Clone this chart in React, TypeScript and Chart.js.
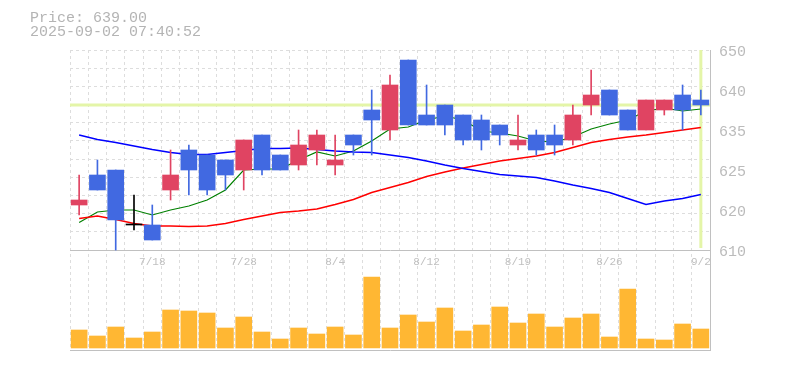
import React, { useEffect, useRef } from 'react';
import { Chart, registerables } from 'chart.js';

Chart.register(...registerables);

// ---- data ----
const DATES = ['7/14','7/15','7/16','7/17','7/18','7/22','7/23','7/24','7/25','7/28','7/29','7/30','7/31','8/1','8/4','8/5','8/6','8/7','8/8','8/12','8/13','8/14','8/15','8/18','8/19','8/20','8/21','8/22','8/25','8/26','8/27','8/28','8/29','9/1','9/2'];
const OPEN  = [619,625,626,615,615,622,630,629,628,626,633,629,627,630,627,633,638,634,648,637,639,637,636,635,631,633,633,632,639,642,638,634,638,641,640];
const HIGH  = [625,628,626,621,619,630,631,629,628,632,633,629,634,634,633,633,642,645,648,643,639,637,637,635,637,634,635,639,646,642,638,640,640,643,642];
const LOW   = [617,622,610,614,612,620,621,621,622,622,625,626,626,627,625,629,629,632,635,635,633,631,630,631,630,629,629,631,637,637,634,634,637,634,637];
const CLOSE = [620,622,616,615,612,625,626,622,625,632,626,626,631,633,628,631,636,643,635,635,635,632,632,633,632,630,631,637,641,637,634,640,640,638,639];
const MA_SHORT = [615.5,617.6,618.0,618.0,617.0,618.0,618.8,620.0,622.0,626.0,626.2,626.2,628.0,629.6,628.8,629.8,631.8,634.2,634.6,636.0,636.8,636.0,633.8,633.4,632.8,631.8,631.6,632.6,634.2,635.2,636.0,637.8,638.4,637.8,638.2];
const MA_MID = [616.3,616.8,616.1,615.3,614.8,614.8,614.7,614.8,615.3,616.1,616.8,617.5,617.8,618.2,619.1,620.1,621.5,622.5,623.5,624.7,625.6,626.4,627.1,627.8,628.3,628.8,629.5,630.5,631.5,632.1,632.6,633.0,633.5,634.0,634.5];
const MA_LONG = [633.0,632.1,631.5,630.8,630.1,629.5,629.1,629.1,629.5,629.9,630.3,630.3,630.4,630.1,629.8,629.6,629.5,629.0,628.5,627.8,627.0,626.3,625.7,625.1,624.8,624.5,623.8,623.0,622.3,621.5,620.3,619.1,619.8,620.3,621.1];
const VOLUME = [18,12,21,10,16,38,37,35,20,31,16,9,20,14,21,13,71,20,33,26,40,17,23,41,25,34,21,30,34,11,59,9,8,24,19];

const PRICE_TICKS = [610, 618, 626, 634, 642, 650];
const PRICE_TICK_LABELS = ['610', '620', '625', '635', '640', '650'];
const GRID_ROWS = [1, 2, 3, 4, 5, 6, 7, 8, 9, 10, 11];
const DATE_TICKS = ['7/18', '7/28', '8/4', '8/12', '8/19', '8/26', '9/2'];
const PRICE_MIN = 610;
const PRICE_MAX = 650;
const LAST_PRICE = 639;
const LAST_DATE = '9/2';
const HEADER = ['Price: 639.00', '2025-09-02 07:40:52'];

// ---- styles ----
const FONT = '"Liberation Mono", monospace';
const UP = '#e04462';
const DOWN = '#4169e1';
const FLAT = '#000000';
const HL = '#e4f5a8';
const GRID = '#dddddd';
const AXIS = '#c0c0c0';

export default function App() {
  const ref = useRef<HTMLCanvasElement>(null);

  useEffect(() => {
    Chart.defaults.font.family = FONT;
    const colors = OPEN.map((o, i) => (CLOSE[i] > o ? UP : CLOSE[i] < o ? DOWN : FLAT));
    const chart = new Chart(ref.current as HTMLCanvasElement, {
      type: 'bar',
      data: {
        labels: DATES,
        datasets: [
          {
            type: 'line', label: 'lastH', xAxisID: 'xh', yAxisID: 'y',
            data: [{ x: 0, y: LAST_PRICE }, { x: 1, y: LAST_PRICE }],
            borderColor: HL, borderWidth: 3, pointRadius: 0, order: 20,
          } as any,
          {
            type: 'line', label: 'lastV', xAxisID: 'x', yAxisID: 'y',
            data: [{ x: LAST_DATE, y: PRICE_MAX }, { x: LAST_DATE, y: PRICE_MIN + 0.4 }],
            borderColor: HL, borderWidth: 3, pointRadius: 0, order: 20,
          } as any,
          {
            type: 'line', label: 'MA long', xAxisID: 'x', yAxisID: 'y', data: MA_LONG,
            borderColor: '#0000ff', borderWidth: 1.5, pointRadius: 0, tension: 0, order: 10,
          } as any,
          {
            type: 'line', label: 'MA mid', xAxisID: 'x', yAxisID: 'y', data: MA_MID,
            borderColor: '#ff0000', borderWidth: 1.5, pointRadius: 0, tension: 0, order: 10,
          } as any,
          {
            type: 'line', label: 'MA short', xAxisID: 'x', yAxisID: 'y', data: MA_SHORT,
            borderColor: '#008000', borderWidth: 1.2, pointRadius: 0, tension: 0, order: 10,
          } as any,
          {
            type: 'bar', label: 'volume', xAxisID: 'x', yAxisID: 'yv', data: VOLUME,
            backgroundColor: 'rgba(255,165,0,0.8)', borderWidth: 0, barThickness: 16,
            grouped: false, order: 8,
          } as any,
          {
            type: 'bar', label: 'wick', xAxisID: 'x', yAxisID: 'y',
            data: LOW.map((l, i) => [l, HIGH[i]]),
            backgroundColor: colors, borderWidth: 0, barThickness: 1,
            grouped: false, order: 3,
          } as any,
          {
            type: 'bar', label: 'body', xAxisID: 'x', yAxisID: 'y',
            data: OPEN.map((o, i) => [o, CLOSE[i]]),
            backgroundColor: colors, borderWidth: 0, barThickness: 16, minBarLength: 1,
            grouped: false, order: 1,
          } as any,
        ],
      },
      options: {
        responsive: false,
        animation: false,
        events: [],
        layout: { padding: { left: 70, top: 50, right: 0, bottom: 20 } },
        plugins: { legend: { display: false }, tooltip: { enabled: false }, title: { display: false } },
        scales: {
          x: {
            type: 'category',
            position: { y: PRICE_MIN } as any,
            offset: true,
            grid: { offset: true, color: GRID, drawTicks: false, lineWidth: 1 },
            border: { display: true, color: AXIS, dash: [3, 3] },
            ticks: {
              autoSkip: false, maxRotation: 0, color: '#c0c0c0',
              font: { family: FONT, size: 11 }, padding: 5,
              callback: (_v: any, i: number) => (DATE_TICKS.includes(DATES[i]) ? DATES[i] : ''),
            },
          },
          x2: {
            type: 'category', position: 'bottom', offset: true,
            grid: { display: false, drawTicks: false },
            ticks: { display: false },
            border: { display: true, color: AXIS },
          },
          xh: { type: 'linear', display: false, min: 0, max: 1, offset: false, grid: { offset: false } },
          y: {
            type: 'linear', position: 'right', min: 590, max: PRICE_MAX,
            grid: { display: false, drawTicks: false },
            border: { display: true, color: AXIS },
            afterBuildTicks: (s: any) => { s.ticks = PRICE_TICKS.map((v) => ({ value: v })); },
            afterFit: (s: any) => { s.width = 75; },
            ticks: {
              color: '#bbbbbb', font: { family: FONT, size: 15 }, padding: 9, labelOffset: 2,
              callback: (_v: any, i: number) => PRICE_TICK_LABELS[i],
            },
          },
          yg: {
            type: 'linear', position: 'left', min: -5.5, max: 11,
            afterBuildTicks: (s: any) => { s.ticks = GRID_ROWS.map((v) => ({ value: v })); },
            afterFit: (s: any) => { s.width = 0; },
            grid: { color: GRID, drawTicks: false, lineWidth: 1 },
            border: { display: false, dash: [3, 3] },
            ticks: { display: false },
          },
          yv: { type: 'linear', display: false, min: -2, max: 298 },
        },
      } as any,
    });
    return () => chart.destroy();
  }, []);

  return (
    <div style={{ position: 'fixed', left: 0, top: 0, width: 785, height: 370, background: '#fff' }}>
      <canvas ref={ref} width={785} height={370} style={{ position: 'absolute', left: 0, top: 0 }} />
      <div
        style={{
          position: 'absolute', left: 30, top: 12, fontFamily: FONT, fontSize: 15,
          lineHeight: '14px', color: '#b4b4b4', whiteSpace: 'pre',
        }}
      >
        {HEADER.map((t) => (
          <div key={t}>{t}</div>
        ))}
      </div>
    </div>
  );
}
